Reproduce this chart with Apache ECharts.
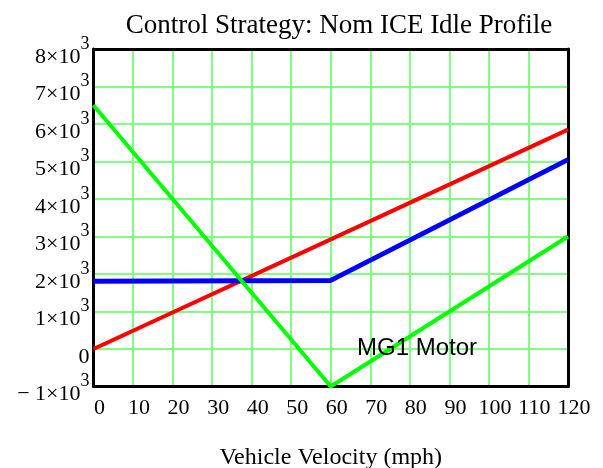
<!DOCTYPE html>
<html>
<head>
<meta charset="utf-8">
<title>Control Strategy: Nom ICE Idle Profile</title>
<script src="https://cdn.jsdelivr.net/npm/echarts@6/dist/echarts.min.js"></script>
<style>
	html, body { margin: 0; padding: 0; background: #ffffff; }
	#chart1 { width: 603px; height: 468px; }
</style>
</head>
<body>
<div id="chart1"></div>
<script>
/*---------- 数据 ----------*/
var speed = [0, 60, 120];
var redLine = [0, 2925, 5850];
var blueLine = [1810, 1830, 5050];
var greenLine = [6500, -1000, 3000];
var xTicks = [0, 10, 20, 30, 40, 50, 60, 70, 80, 90, 100, 110, 120];
var yTicks = [-1000, 0, 1000, 2000, 3000, 4000, 5000, 6000, 7000, 8000];
/*-------------------------*/

function pairs(ys) {
	var out = [];
	for (var i = 0; i < speed.length; i++) {
		out.push([speed[i], ys[i]]);
	}
	return out;
}

function yLabel(v) {
	if (v === 0) {
		return '{a|0}';
	}
	var m = v / 1000;
	var s = m < 0 ? '\u2212 ' + (-m) : '' + m;
	return '{a|' + s + '\u00d710}{s|3}';
}

var serif = '"Liberation Serif", "Times New Roman", serif';

var myChart = echarts.init(document.getElementById('chart1'));
myChart.setOption({
	animation: false,
	title: {
		text: 'Control Strategy: Nom ICE Idle Profile',
		left: 334,
		top: 7,
		textAlign: 'center',
		textStyle: {
			fontFamily: serif,
			fontSize: 27,
			fontWeight: 'normal',
			color: '#000000'
		}
	},
	grid: {
		left: 93.5,
		right: 35,
		top: 49,
		bottom: 81.5,
		containLabel: false,
		outerBoundsMode: 'none'
	},
	xAxis: [{
		type: 'value',
		min: xTicks[0],
		max: xTicks[xTicks.length - 1],
		interval: 10,
		name: 'Vehicle Velocity (mph)',
		nameLocation: 'middle',
		nameGap: 59,
		nameTextStyle: {
			fontFamily: serif,
			fontSize: 24,
			color: '#000000'
		},
		axisLine: {
			onZero: false,
			lineStyle: { color: '#000000', width: 3 }
		},
		axisTick: { show: false },
		axisLabel: {
			margin: 11,
			padding: [0, 0, 0, 12],
			fontFamily: serif,
			fontSize: 22,
			color: '#000000'
		},
		splitLine: {
			show: true,
			showMinLine: false,
			showMaxLine: false,
			lineStyle: { color: '#80ff80', width: 2 }
		}
	}, {
		type: 'value',
		position: 'top',
		min: xTicks[0],
		max: xTicks[xTicks.length - 1],
		axisLine: { show: true, onZero: false, lineStyle: { color: '#000000', width: 3 } },
		axisTick: { show: false },
		axisLabel: { show: false },
		splitLine: { show: false }
	}],
	yAxis: [{
		type: 'value',
		min: yTicks[0],
		max: yTicks[yTicks.length - 1],
		interval: 1000,
		axisLine: {
			show: true,
			onZero: false,
			lineStyle: { color: '#000000', width: 3 }
		},
		axisTick: { show: false },
		axisLabel: {
			margin: 4,
			formatter: yLabel,
			rich: {
				a: {
					fontFamily: serif,
					fontSize: 22,
					color: '#000000',
					padding: [16, 0, 0, 0]
				},
				s: {
					fontFamily: serif,
					fontSize: 18,
					color: '#000000',
					padding: [0, 0, 10, 0]
				}
			}
		},
		splitLine: {
			show: true,
			showMinLine: false,
			showMaxLine: false,
			lineStyle: { color: '#80ff80', width: 2 }
		}
	}, {
		type: 'value',
		position: 'right',
		min: yTicks[0],
		max: yTicks[yTicks.length - 1],
		axisLine: { show: true, onZero: false, lineStyle: { color: '#000000', width: 3 } },
		axisTick: { show: false },
		axisLabel: { show: false },
		splitLine: { show: false }
	}],
	graphic: [{
		type: 'text',
		left: 357,
		top: 336,
		z: 100,
		style: {
			text: 'MG1 Motor',
			font: '24px "Liberation Sans", Arial, sans-serif',
			fill: '#000000'
		}
	}],
	series: [
		{
			name: 'ICE',
			type: 'line',
			symbol: 'none',
			lineStyle: { color: '#ff0000', width: 4 },
			data: pairs(redLine)
		},
		{
			name: 'MG2',
			type: 'line',
			symbol: 'none',
			lineStyle: { color: '#0000ff', width: 5 },
			data: pairs(blueLine)
		},
		{
			name: 'MG1',
			type: 'line',
			symbol: 'none',
			lineStyle: { color: '#00ff00', width: 4 },
			data: pairs(greenLine)
		}
	]
});
</script>
</body>
</html>
